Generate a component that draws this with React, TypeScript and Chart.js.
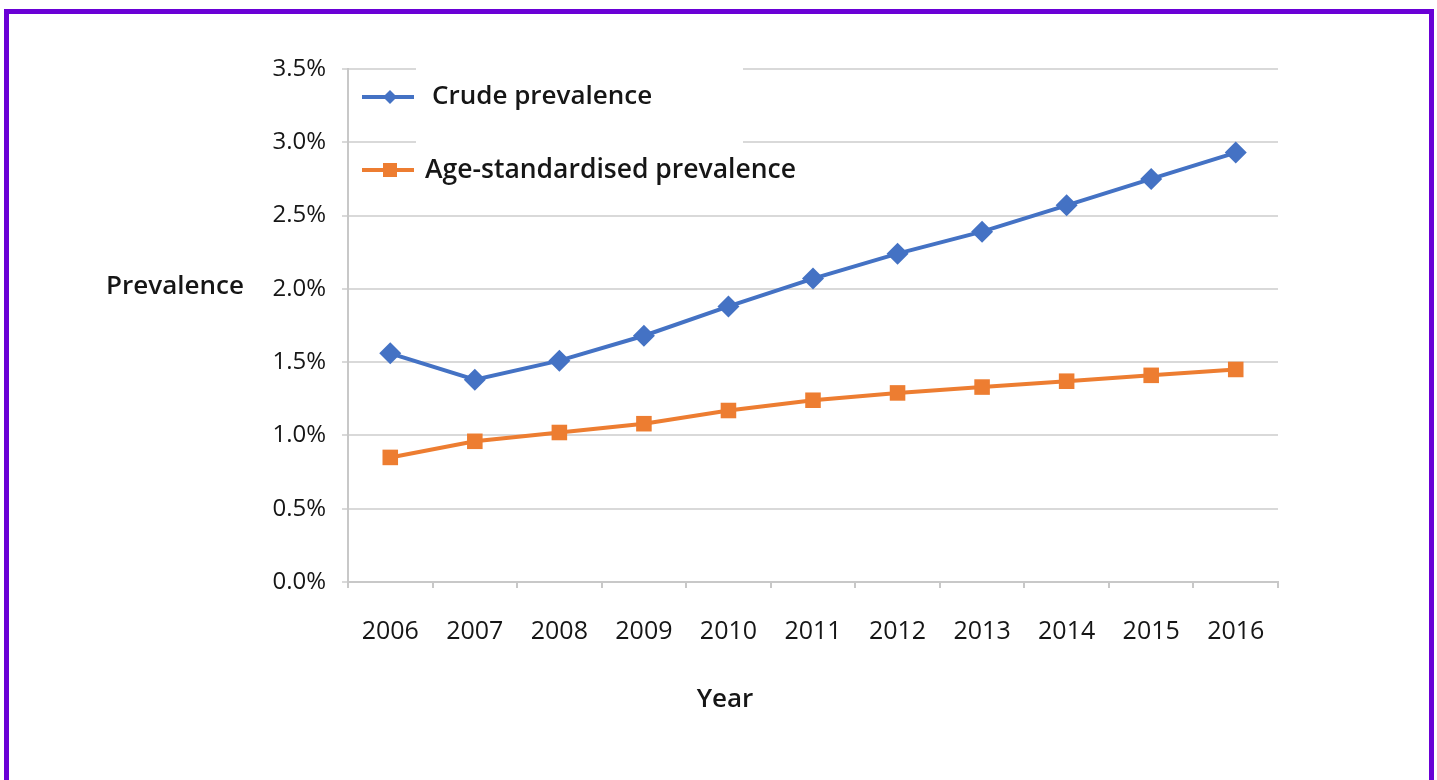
import React, { useEffect, useRef } from "react";
import { Chart, registerables } from "chart.js";

Chart.register(...registerables);

const years = ["2006", "2007", "2008", "2009", "2010", "2011", "2012", "2013", "2014", "2015", "2016"];
const crudePrevalence = [1.56, 1.38, 1.51, 1.68, 1.88, 2.07, 2.24, 2.39, 2.57, 2.75, 2.93];
const ageStandardisedPrevalence = [0.85, 0.96, 1.02, 1.08, 1.17, 1.24, 1.29, 1.33, 1.37, 1.41, 1.45];
const seriesNames = ["Crude prevalence", "Age-standardised prevalence"];
const yTitle = "Prevalence";
const xTitle = "Year";

const BLUE = "#4472C4";
const ORANGE = "#ED7D31";
const TEXT = "#161616";
const GRID = "#d9d9d9";

const overlayPlugin = {
  id: "overlay",
  afterDatasetsDraw(chart: any) {
    const ctx = chart.ctx;
    ctx.save();
    // legend background box
    ctx.fillStyle = "#ffffff";
    ctx.fillRect(416, 60, 327, 125);
    const items = [
      { label: seriesNames[0], color: BLUE, y: 97, shape: "diamond", tx: 432 },
      { label: seriesNames[1], color: ORANGE, y: 170, shape: "square", tx: 425 },
    ];
    for (const it of items) {
      ctx.strokeStyle = it.color;
      ctx.lineWidth = 4;
      ctx.beginPath();
      ctx.moveTo(362, it.y);
      ctx.lineTo(414, it.y);
      ctx.stroke();
      ctx.fillStyle = it.color;
      if (it.shape === "diamond") {
        ctx.beginPath();
        ctx.moveTo(390, it.y - 7);
        ctx.lineTo(397, it.y);
        ctx.lineTo(390, it.y + 7);
        ctx.lineTo(383, it.y);
        ctx.closePath();
        ctx.fill();
      } else {
        ctx.fillRect(383, it.y - 7, 14, 14);
      }
      ctx.fillStyle = TEXT;
      ctx.font = it.shape === "diamond" ? "600 26px 'Open Sans'" : "600 26.5px 'Open Sans'";
      ctx.textAlign = "left";
      ctx.textBaseline = "middle";
      ctx.fillText(it.label, it.tx, it.y);
    }
    ctx.restore();
  },
  afterDraw(chart: any) {
    const ctx = chart.ctx;
    ctx.save();
    ctx.fillStyle = TEXT;
    ctx.font = "600 26px 'Open Sans'";
    ctx.textAlign = "center";
    ctx.textBaseline = "middle";
    ctx.fillText(yTitle, 175, 287);
    ctx.fillText(xTitle, 725, 700);
    ctx.restore();
  },
};

export default function App() {
  const canvasRef = useRef<HTMLCanvasElement | null>(null);

  useEffect(() => {
    const canvas = canvasRef.current;
    if (!canvas) return;
    const chart = new Chart(canvas, {
      type: "line",
      data: {
        labels: years,
        datasets: [
          {
            label: seriesNames[0],
            data: crudePrevalence,
            borderColor: BLUE,
            backgroundColor: BLUE,
            borderWidth: 4,
            pointStyle: "rectRot",
            pointRadius: 11,
            pointBorderWidth: 0,
            tension: 0,
          },
          {
            label: seriesNames[1],
            data: ageStandardisedPrevalence,
            borderColor: ORANGE,
            backgroundColor: ORANGE,
            borderWidth: 4,
            pointStyle: "rect",
            pointRadius: 11,
            pointBorderWidth: 0,
            tension: 0,
          },
        ],
      },
      options: {
        responsive: false,
        animation: false,
        layout: { padding: { top: 69, right: 159, bottom: 0, left: 0 } },
        plugins: {
          legend: { display: false },
          tooltip: { enabled: false },
          title: { display: false },
        },
        scales: {
          x: {
            type: "category",
            offset: true,
            grid: {
              offset: true,
              drawOnChartArea: false,
              drawTicks: true,
              tickLength: 6,
              color: "#c8c8c8",
              lineWidth: 2,
            },
            border: { display: true, color: "#c8c8c8", width: 2 },
            ticks: {
              color: TEXT,
              font: { family: "'Open Sans'", size: 25 },
              padding: 29,
              maxRotation: 0,
            },
            afterFit(scale: any) {
              scale.height = 198;
            },
          },
          y: {
            min: 0,
            max: 3.5,
            ticks: {
              stepSize: 0.5,
              color: TEXT,
              font: { family: "'Open Sans'", size: 24 },
              padding: 16,
              callback: (v: any) => Number(v).toFixed(1) + "%",
            },
            grid: {
              color: GRID,
              lineWidth: 2,
              drawTicks: true,
              tickLength: 6,
            },
            border: { display: true, color: "#c8c8c8", width: 2 },
            afterFit(scale: any) {
              scale.width = 348;
            },
          },
        },
      },
      plugins: [overlayPlugin],
    });
    return () => chart.destroy();
  }, []);

  return (
    <div style={{ position: "absolute", left: 0, top: 0, width: 1437, height: 780, background: "#fff", overflow: "hidden" }}>
      <canvas ref={canvasRef} width={1437} height={780} style={{ position: "absolute", left: 0, top: 0 }} />
      <div
        style={{
          position: "absolute",
          left: 4,
          top: 9,
          width: 1430,
          height: 800,
          boxSizing: "border-box",
          border: "5px solid #6A00D6",
          pointerEvents: "none",
        }}
      />
    </div>
  );
}
